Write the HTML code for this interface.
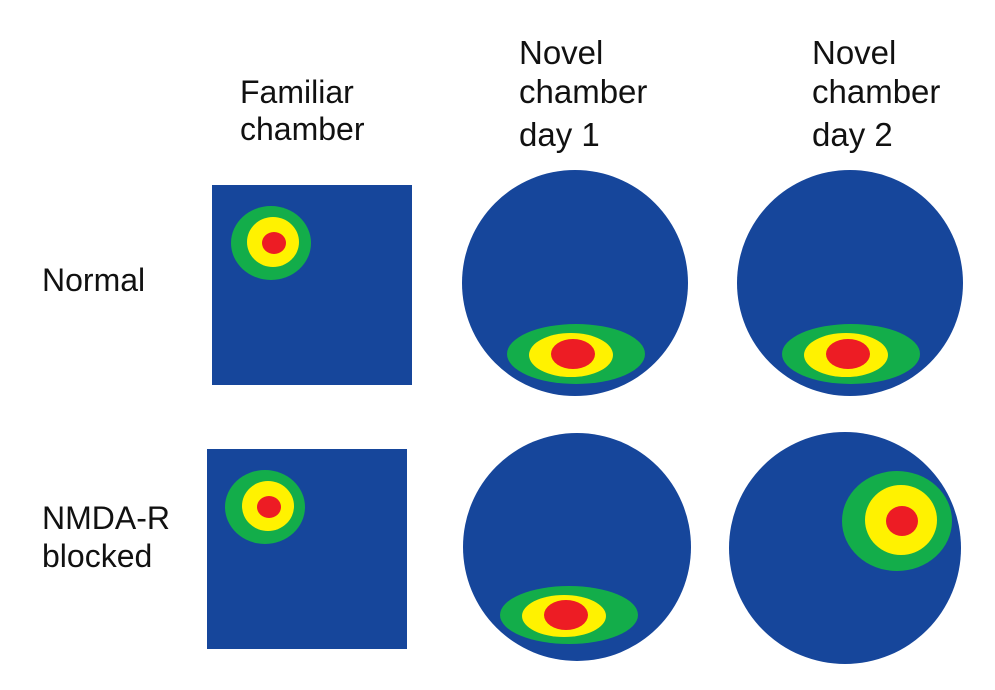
<!DOCTYPE html>
<html><head><style>
body{margin:0;background:#fff;width:995px;height:685px;overflow:hidden}
svg text{font-family:"Liberation Sans",Arial,sans-serif;font-size:33px;fill:#111}
</style></head><body>
<svg width="995" height="685" viewBox="0 0 995 685">
<g fill="#16469b">
<rect x="212" y="185" width="200" height="200"/>
<rect x="207" y="449" width="200" height="200"/>
<circle cx="575" cy="283" r="113"/>
<circle cx="850" cy="283" r="113"/>
<circle cx="577" cy="547" r="114"/>
<circle cx="845" cy="548" r="116"/>
</g>
<ellipse cx="271" cy="243" rx="40" ry="37" fill="#13ad4a"/>
<ellipse cx="273" cy="242" rx="26" ry="25" fill="#fff200"/>
<ellipse cx="274" cy="243" rx="12" ry="11" fill="#ed1c24"/>
<ellipse cx="265" cy="507" rx="40" ry="37" fill="#13ad4a"/>
<ellipse cx="268" cy="506" rx="26" ry="25" fill="#fff200"/>
<ellipse cx="269" cy="507" rx="12" ry="11" fill="#ed1c24"/>
<ellipse cx="576" cy="354" rx="69" ry="30" fill="#13ad4a"/>
<ellipse cx="571" cy="355" rx="42" ry="22" fill="#fff200"/>
<ellipse cx="573" cy="354" rx="22" ry="15" fill="#ed1c24"/>
<ellipse cx="851" cy="354" rx="69" ry="30" fill="#13ad4a"/>
<ellipse cx="846" cy="355" rx="42" ry="22" fill="#fff200"/>
<ellipse cx="848" cy="354" rx="22" ry="15" fill="#ed1c24"/>
<ellipse cx="569" cy="615" rx="69" ry="29" fill="#13ad4a"/>
<ellipse cx="564" cy="616" rx="42" ry="21" fill="#fff200"/>
<ellipse cx="566" cy="615" rx="22" ry="15" fill="#ed1c24"/>
<ellipse cx="897" cy="521" rx="55" ry="50" fill="#13ad4a"/>
<ellipse cx="901" cy="520" rx="36" ry="35" fill="#fff200"/>
<ellipse cx="902" cy="521" rx="16" ry="15" fill="#ed1c24"/>
<text x="240" y="103" style="font-size:32px">Familiar</text>
<text x="240" y="140" style="font-size:32px">chamber</text>
<text x="519" y="64">Novel</text>
<text x="519" y="103">chamber</text>
<text x="519" y="146">day 1</text>
<text x="812" y="64">Novel</text>
<text x="812" y="103">chamber</text>
<text x="812" y="146">day 2</text>
<text x="42" y="291" style="font-size:32px">Normal</text>
<text x="42" y="529" style="font-size:32px">NMDA-R</text>
<text x="42" y="567" style="font-size:32px">blocked</text>
</svg>
</body></html>
